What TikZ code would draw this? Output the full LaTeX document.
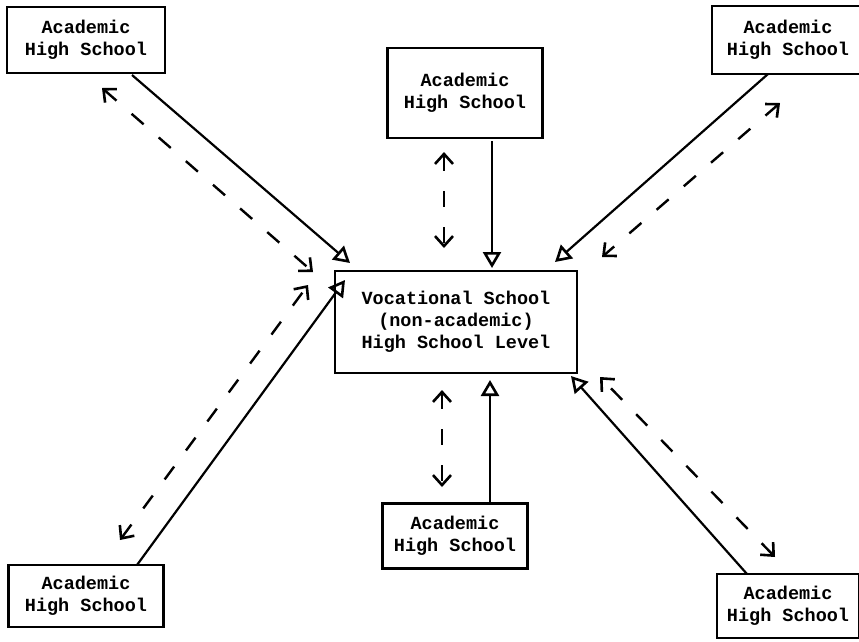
\documentclass[tikz,border=0pt]{standalone}
\usepackage{fontspec}
\setmonofont{Liberation Mono}
\usetikzlibrary{arrows.meta}
\tikzset{
	school/.style={draw, line width=2.6pt, align=center, inner sep=0pt,
		font=\ttfamily\bfseries\fontsize{18.5}{22}\selectfont},
	flow/.style={line width=2.2pt, -{Triangle[open, length=16pt, width=18pt, line width=2.6pt]}},
	contact/.style={line width=2.4pt, dash pattern=on 16pt off 20pt,
		{Straight Barb[length=10pt, width=18pt, line width=2.6pt]}-{Straight Barb[length=10pt, width=18pt, line width=2.6pt]}}
}
\begin{document}
\begin{tikzpicture}[x=1pt,y=-1pt]
			\useasboundingbox (0,0) rectangle (859,641);
			%Vocational school in the middle
			\node [school, minimum width=242pt, minimum height=102pt] (voc) at (456,322) {Vocational School\\(non-academic)\\High School Level};
			%Academic high schools around it
			\node [school, minimum width=158pt, minimum height=66pt] (acTL) at (86,40) {Academic\\High School};
			\node [school, minimum width=155pt, minimum height=90pt] (acTC) at (465,93) {Academic\\High School};
			\node [school, minimum width=152pt, minimum height=68pt] (acTR) at (788,40) {Academic\\High School};
			\node [school, minimum width=155pt, minimum height=62pt] (acBL) at (86,596) {Academic\\High School};
			\node [school, minimum width=145pt, minimum height=65pt] (acBC) at (455,536) {Academic\\High School};
			\node [school, minimum width=142pt, minimum height=64pt] (acBR) at (788,606) {Academic\\High School};
			%Solid arrows towards the vocational school
			\coordinate (fTL) at (132,75);
			\coordinate (tTL) at (350,263);
			\coordinate (fTC) at (492,141);
			\coordinate (tTC) at (492,268);
			\coordinate (fTR) at (768,74);
			\coordinate (tTR) at (555,262);
			\coordinate (fBL) at (137,565);
			\coordinate (tBL) at (345,280);
			\coordinate (fBC) at (490,503);
			\coordinate (tBC) at (490,380);
			\coordinate (fBR) at (747,574);
			\coordinate (tBR) at (571,376);
			\draw [flow] (fTL) -- (tTL);
			\draw [flow] (fTC) -- (tTC);
			\draw [flow] (fTR) -- (tTR);
			\draw [flow] (fBL) -- (tBL);
			\draw [flow] (fBC) -- (tBC);
			\draw [flow] (fBR) -- (tBR);
			%Dashed arrows both ways
			\coordinate (aTL) at (102,88);
			\coordinate (bTL) at (313,272);
			\coordinate (aTC) at (444,152);
			\coordinate (bTC) at (444,248);
			\coordinate (aTR) at (780,103);
			\coordinate (bTR) at (602,257);
			\coordinate (aBL) at (120,540);
			\coordinate (bBL) at (308,285);
			\coordinate (aBC) at (442,390);
			\coordinate (bBC) at (442,487);
			\coordinate (aBR) at (775,557);
			\coordinate (bBR) at (600,377);
			\draw [contact] (aTL) -- (bTL);
			\draw [contact] (aTC) -- (bTC);
			\draw [contact] (aTR) -- (bTR);
			\draw [contact] (aBL) -- (bBL);
			\draw [contact] (aBC) -- (bBC);
			\draw [contact] (aBR) -- (bBR);
\end{tikzpicture}
\end{document}
